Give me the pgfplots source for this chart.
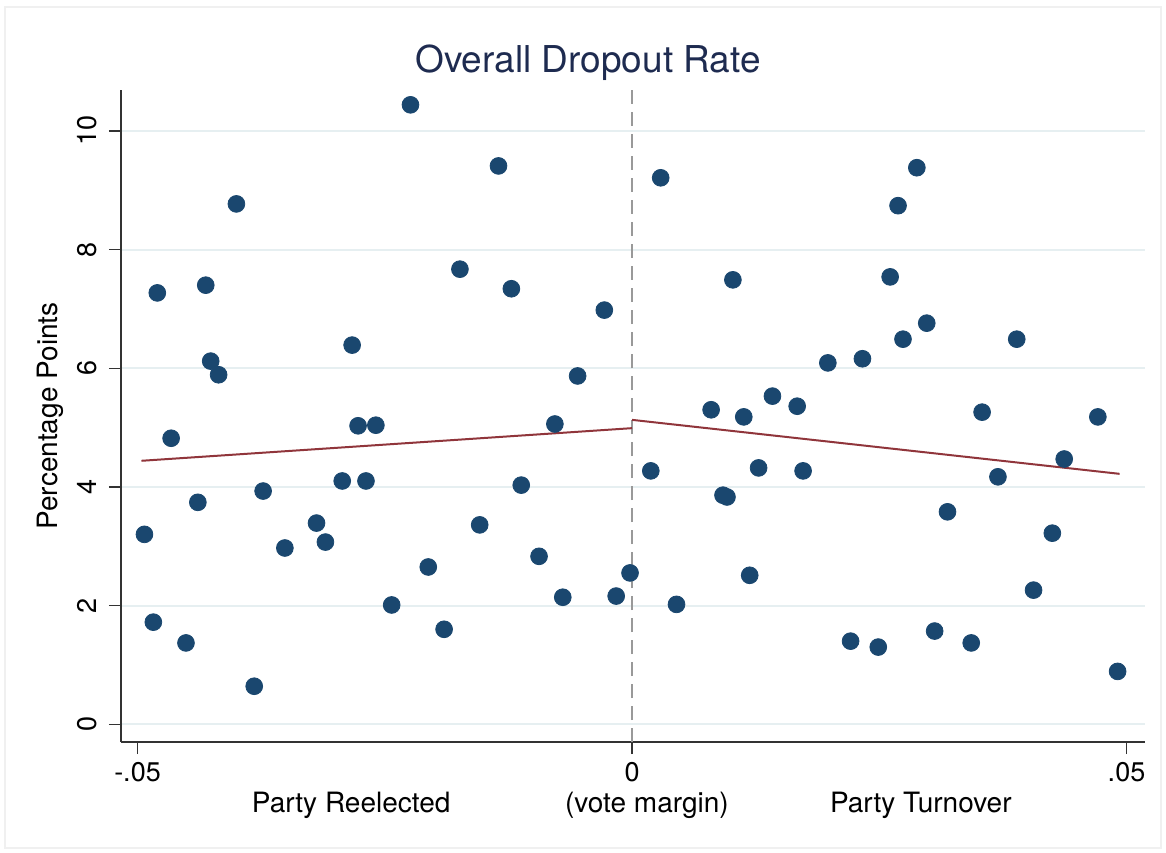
\documentclass[border=0pt]{standalone}
\usepackage{fontspec}
\setmainfont{TeX Gyre Heros}
\usepackage{pgfplots}
\pgfplotsset{compat=1.18}
\definecolor{statanavy}{HTML}{1A476F}
\definecolor{statamaroon}{HTML}{90353B}
\definecolor{titleblue}{HTML}{1E2B50}
\definecolor{gridc}{HTML}{E6EFF1}

\begin{document}
\begin{tikzpicture}
% frame of the whole picture (1166 x 852 px at 0.5pt per px)
\path (-60.5pt,-55pt) rectangle (522.5pt,371pt);
\draw[gray!12, line width=0.6pt] (-58pt,-53pt) rectangle (520pt,367.5pt);
\begin{axis}[
    scale only axis,
    width=512pt,
    height=326pt,
    xmin=-0.05167, xmax=0.05187,
    ymin=-0.30, ymax=10.69,
    axis lines*=left,
    axis line style={draw=black!80, line width=0.7pt},
    xtick={-0.05,0,0.05},
    xticklabels={-.05,0,.05},
    scaled x ticks=false,
    scaled y ticks=false,
    ytick={0,2,4,6,8,10},
    yticklabels={0,2,4,6,8,10},
    tick align=outside,
    major tick length=6pt,
    tick style={draw=black!80, line width=0.7pt},
    ticklabel style={font=\fontsize{13.5}{14}\selectfont},
    yticklabel style={rotate=90, anchor=south, inner sep=0pt, yshift=6pt},
    xticklabel style={inner sep=0pt, yshift=-4pt},
    ymajorgrids,
    grid style={gridc, line width=1pt},
    clip=false,
]
% dashed cutoff line
\addplot[draw=gray!80, line width=1.3pt, dash pattern=on 7pt off 4pt] coordinates {(0,-0.30) (0,10.69)};

\addplot[only marks, mark=*, mark size=4.2pt, mark options={fill=statanavy, draw=statanavy}] coordinates {
(-0.0493,3.20) (-0.0484,1.72) (-0.0480,7.27) (-0.0466,4.82) (-0.0451,1.37)
(-0.0439,3.74) (-0.0431,7.40) (-0.0426,6.12) (-0.0418,5.89) (-0.0400,8.77)
(-0.0382,0.64) (-0.0373,3.93) (-0.0351,2.97) (-0.0319,3.39) (-0.0310,3.07)
(-0.0293,4.10) (-0.0283,6.39) (-0.0277,5.03) (-0.0269,4.10) (-0.0259,5.04)
(-0.0243,2.01) (-0.0224,10.44) (-0.0206,2.65) (-0.0190,1.60) (-0.0174,7.67)
(-0.0154,3.36) (-0.0135,9.41) (-0.0122,7.34) (-0.0112,4.03) (-0.0094,2.83)
(-0.0078,5.06) (-0.0070,2.14) (-0.0055,5.87) (-0.0028,6.98) (-0.0016,2.16)
(-0.0002,2.55)
(0.0019,4.27) (0.0029,9.21) (0.0045,2.02) (0.0080,5.30) (0.0092,3.86)
(0.0096,3.83) (0.0102,7.49) (0.0113,5.18) (0.0119,2.51) (0.0128,4.32)
(0.0142,5.53) (0.0167,5.36) (0.0173,4.27) (0.0198,6.09) (0.0221,1.40)
(0.0233,6.16) (0.0249,1.30) (0.0261,7.54) (0.0269,8.74) (0.0274,6.49)
(0.0288,9.38) (0.0298,6.76) (0.0306,1.57) (0.0319,3.58) (0.0343,1.37)
(0.0354,5.26) (0.0370,4.17) (0.0389,6.49) (0.0406,2.26) (0.0425,3.22)
(0.0437,4.47) (0.0471,5.18) (0.0491,0.89)
};

% fitted lines
\addplot[draw=statamaroon, line width=1pt] coordinates {(-0.0496,4.44) (0,4.99)};
\addplot[draw=statamaroon, line width=1pt] coordinates {(0,5.13) (0.0493,4.22)};

% title, y title and bottom labels
\node[font=\fontsize{18.5}{20}\selectfont, text=titleblue] at (rel axis cs:0.456,1.042) {Overall Dropout Rate};
\node[font=\fontsize{14}{15}\selectfont, rotate=90] at (rel axis cs:-0.0693,0.5) {Percentage Points};
\node[font=\fontsize{14}{15}\selectfont] at (axis cs:-0.0284,-1.366) {Party Reelected};
\node[font=\fontsize{14}{15}\selectfont] at (axis cs:0.0015,-1.366) {(vote margin)};
\node[font=\fontsize{14}{15}\selectfont] at (axis cs:0.0292,-1.366) {Party Turnover};
\end{axis}
\end{tikzpicture}
\end{document}
